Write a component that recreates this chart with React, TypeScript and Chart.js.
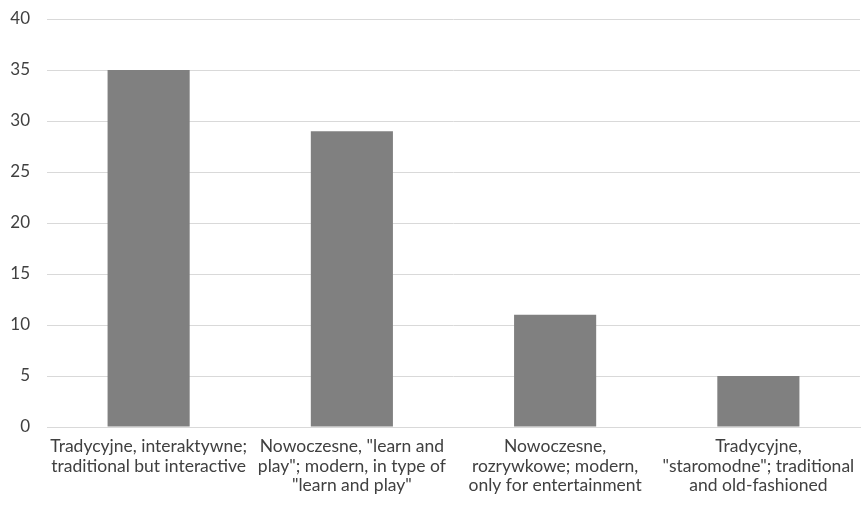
import React, { useEffect, useRef } from "react";
import { Chart, registerables } from "chart.js";

Chart.register(...registerables);

const categories: string[][] = [
  ["Tradycyjne, interaktywne;", "traditional but interactive"],
  ["Nowoczesne, \"learn and", "play\"; modern, in type of", "\"learn and play\""],
  ["Nowoczesne,", "rozrywkowe; modern,", "only for entertainment"],
  ["Tradycyjne,", "\"staromodne\"; traditional", "and old-fashioned"],
];
const values: number[] = [35, 29, 11, 5];
const yTicks = { min: 0, max: 40, step: 5 };

export default function App() {
  const ref = useRef<HTMLCanvasElement>(null);
  useEffect(() => {
    if (!ref.current) return;
    const xFont = { family: "Lato, 'Open Sans', sans-serif", size: 17.5, lineHeight: 1.11 };
    const yFont = { family: "Lato, 'Open Sans', sans-serif", size: 17 };
    const chart = new Chart(ref.current, {
      type: "bar",
      data: {
        labels: categories,
        datasets: [
          {
            data: values,
            backgroundColor: "#808080",
            borderWidth: 0,
            barPercentage: 0.404,
            categoryPercentage: 1,
          },
        ],
      },
      options: {
        animation: false,
        responsive: false,
        maintainAspectRatio: false,
        layout: { padding: { top: 19, right: 1, bottom: 0, left: 0 } },
        plugins: { legend: { display: false }, tooltip: { enabled: false } },
        scales: {
          x: {
            grid: { display: false },
            border: { display: true, color: "#d9d9d9", width: 1 },
            ticks: { color: "#404040", font: xFont, maxRotation: 0, autoSkip: false, padding: 2 },
            afterFit: (s: any) => {
              s.height = 82;
              s.paddingLeft = 0;
              s.paddingRight = 0;
            },
          },
          y: {
            min: yTicks.min,
            max: yTicks.max,
            grid: { color: "#d9d9d9", drawTicks: false },
            border: { display: false },
            ticks: { stepSize: yTicks.step, color: "#404040", font: yFont, padding: 17 },
            afterFit: (s: any) => {
              s.width = 47;
              s.paddingTop = 0;
              s.paddingBottom = 0;
            },
          },
        },
      },
    });
    return () => chart.destroy();
  }, []);
  return (
    <div style={{ position: "fixed", left: 0, top: 0, width: 861, height: 509, background: "#fff" }}>
      <canvas ref={ref} width={861} height={509} style={{ width: 861, height: 509 }} />
    </div>
  );
}
